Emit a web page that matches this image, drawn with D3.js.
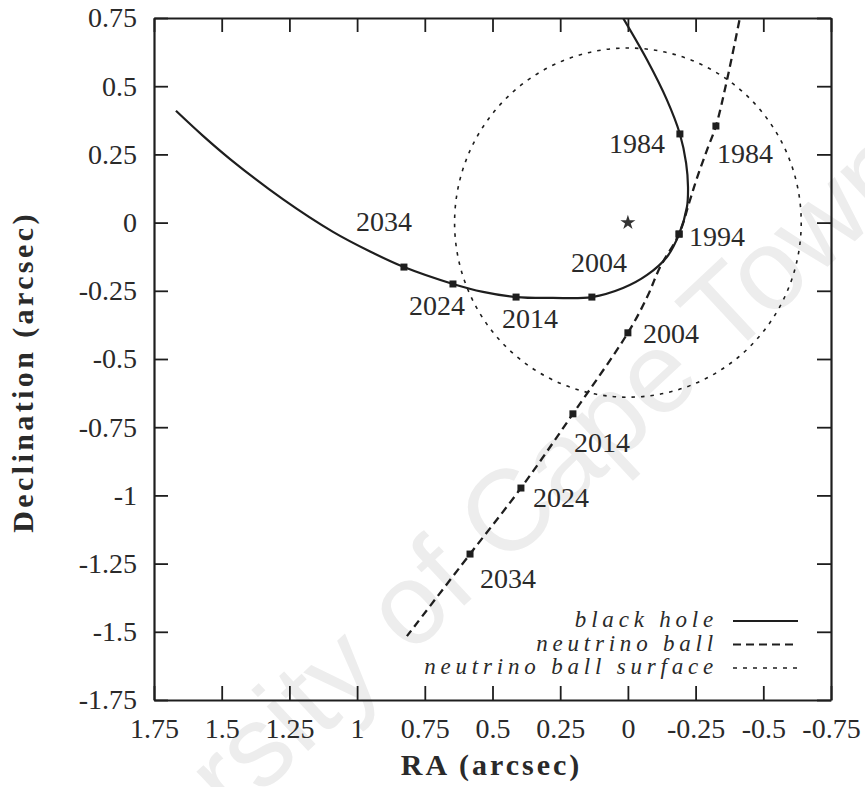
<!DOCTYPE html>
<html>
<head>
<meta charset="utf-8">
<script src="https://cdn.jsdelivr.net/npm/d3@7"></script>
<style>
  html, body { margin: 0; padding: 0; background: #ffffff; }
  svg { display: block; }
  .serif { font-family: "Liberation Serif", "DejaVu Serif", "Noto Serif", "Times New Roman", Times, serif; }
</style>
</head>
<body>
<script>
// ---- data (arcsec) ----
const raTicks  = [1.75, 1.5, 1.25, 1, 0.75, 0.5, 0.25, 0, -0.25, -0.5, -0.75];
const decTicks = [0.75, 0.5, 0.25, 0, -0.25, -0.5, -0.75, -1, -1.25, -1.5, -1.75];

// black hole orbit track
const blackHoleRA  = [0.040, -0.071, -0.144, -0.192, -0.215, -0.222, -0.218, -0.189, -0.144, -0.071, 0.018, 0.133, 0.277, 0.413, 0.535, 0.646, 0.827, 0.952, 1.089, 1.273, 1.469, 1.569, 1.669];
const blackHoleDec = [0.787, 0.596, 0.450, 0.325, 0.218, 0.130, 0.057, -0.042, -0.126, -0.192, -0.240, -0.273, -0.276, -0.273, -0.254, -0.225, -0.163, -0.106, -0.034, 0.085, 0.233, 0.318, 0.410];

// neutrino ball track
const neutrinoRA  = [-0.421, -0.366, -0.325, -0.292, -0.255, -0.226, -0.189, -0.119, -0.071, 0.000, 0.203, 0.395, 0.583, 0.816];
const neutrinoDec = [0.787, 0.523, 0.354, 0.266, 0.163, 0.072, -0.042, -0.163, -0.273, -0.404, -0.701, -0.973, -1.215, -1.516];

// epochs marked along both tracks
const epochYears  = [1984, 1994, 2004, 2014, 2024, 2034];
const bhEpochRA   = [-0.192, -0.189, 0.133, 0.413, 0.646, 0.827];
const bhEpochDec  = [0.325, -0.042, -0.273, -0.273, -0.225, -0.163];
const nbEpochRA   = [-0.325, -0.189, 0.000, 0.203, 0.395, 0.583];
const nbEpochDec  = [0.354, -0.042, -0.404, -0.701, -0.973, -1.215];

// neutrino ball surface radius, centred on the origin (Sgr A*)
const surfaceRadius = 0.64;
const centreRA = 0, centreDec = 0;

const legendLabels = ["black hole", "neutrino ball", "neutrino ball surface"];

// ---- layout ----
const W = 865, H = 787;
const ink = "#1e1e1e", textInk = "#2a2a2a";

// label placement relative to each epoch marker: [dx, dy, anchor] (null = no label)
const bhLabelPos = [[-15, 19, "end"], [10, 12, "start"], [35, -25, "end"], [-14, 31, "start"], [12, 31, "end"], [8, -36, "end"]];
const nbLabelPos = [[1, 37, "start"], null, [15, 10, "start"], [1, 38, "start"], [12, 19, "start"], [10, 34, "start"]];

const svg = d3.select("body").append("svg").attr("width", W).attr("height", H);
svg.append("rect").attr("width", W).attr("height", H).attr("fill", "#ffffff");

// faint diagonal watermark
svg.append("text")
  .attr("transform", "translate(470,600) rotate(-43)")
  .attr("text-anchor", "middle")
  .style("font-family", "'Liberation Sans', Arial, sans-serif")
  .attr("font-size", 115)
  .attr("fill", "#ededed")
  .text("University of Cape Town");

const x = d3.scaleLinear().domain([1.75, -0.75]).range([154, 831]);
const y = d3.scaleLinear().domain([0.75, -1.75]).range([18, 700]);

svg.append("clipPath").attr("id", "plotClip")
  .append("rect").attr("x", x(1.75)).attr("y", y(0.75))
  .attr("width", x(-0.75) - x(1.75)).attr("height", y(-1.75) - y(0.75));

const fmt = d => String(d);

function styleAxis(g) {
  g.attr("font-family", null).attr("font-size", null);
  g.select(".domain").attr("stroke", ink).attr("stroke-width", 2.2);
  g.selectAll(".tick line").attr("stroke", ink).attr("stroke-width", 1.8);
  g.selectAll(".tick text").attr("class", "serif").attr("fill", textInk).attr("font-size", 28);
}

svg.append("g").attr("transform", `translate(0,${y(-1.75)})`)
  .call(d3.axisBottom(x).tickValues(raTicks).tickFormat(fmt).tickSize(-14).tickSizeOuter(0).tickPadding(18))
  .call(styleAxis);
svg.append("g").attr("transform", `translate(0,${y(0.75)})`)
  .call(d3.axisTop(x).tickValues(raTicks).tickFormat("").tickSize(-14).tickSizeOuter(0))
  .call(styleAxis);
svg.append("g").attr("transform", `translate(${x(1.75)},0)`)
  .call(d3.axisLeft(y).tickValues(decTicks).tickFormat(fmt).tickSize(-14).tickSizeOuter(0).tickPadding(17))
  .call(styleAxis);
svg.append("g").attr("transform", `translate(${x(-0.75)},0)`)
  .call(d3.axisRight(y).tickValues(decTicks).tickFormat("").tickSize(-14).tickSizeOuter(0))
  .call(styleAxis);

svg.selectAll(".tick text").filter(function () { return this.textContent === ""; }).remove();

// axis titles
svg.append("text").attr("class", "serif")
  .attr("x", (x(1.75) + x(-0.75)) / 2 - 1).attr("y", 775)
  .attr("text-anchor", "middle").attr("font-weight", "bold")
  .attr("font-size", 30).attr("letter-spacing", 3).attr("fill", textInk)
  .text("RA (arcsec)");
svg.append("text").attr("class", "serif")
  .attr("transform", `translate(33,${(y(0.75) + y(-1.75)) / 2 + 13}) rotate(-90)`)
  .attr("text-anchor", "middle").attr("font-weight", "bold")
  .attr("font-size", 30).attr("letter-spacing", 3.4).attr("fill", textInk)
  .text("Declination (arcsec)");

const plot = svg.append("g").attr("clip-path", "url(#plotClip)");

// neutrino ball surface
plot.append("ellipse")
  .attr("cx", x(centreRA)).attr("cy", y(centreDec))
  .attr("rx", Math.abs(x(surfaceRadius) - x(0))).attr("ry", Math.abs(y(surfaceRadius) - y(0)))
  .attr("fill", "none").attr("stroke", ink).attr("stroke-width", 1.6)
  .attr("stroke-dasharray", "3.5,6");

const line = d3.line().x(d => x(d[0])).y(d => y(d[1])).curve(d3.curveCatmullRom.alpha(0.5));

const bhTrack = blackHoleRA.map((r, i) => [r, blackHoleDec[i]]);
const nbTrack = neutrinoRA.map((r, i) => [r, neutrinoDec[i]]);

plot.append("path").attr("d", line(nbTrack))
  .attr("fill", "none").attr("stroke", ink).attr("stroke-width", 2.3)
  .attr("stroke-dasharray", "8,5");
plot.append("path").attr("d", line(bhTrack))
  .attr("fill", "none").attr("stroke", ink).attr("stroke-width", 2.2);

// centre star
plot.append("path")
  .attr("transform", `translate(${x(centreRA)},${y(centreDec)})`)
  .attr("d", d3.symbol().type(d3.symbolStar).size(70)())
  .attr("fill", "#333");

// epoch markers and labels
function drawEpochs(ras, decs, pos) {
  epochYears.forEach((yr, i) => {
    const px = x(ras[i]), py = y(decs[i]);
    plot.append("rect").attr("x", px - 3.5).attr("y", py - 3.5)
      .attr("width", 7).attr("height", 7).attr("fill", ink);
    const p = pos[i];
    if (p) {
      svg.append("text").attr("class", "serif").attr("x", px + p[0]).attr("y", py + p[1])
        .attr("text-anchor", p[2]).attr("font-size", 28)
        .attr("fill", textInk).text(yr);
    }
  });
}
drawEpochs(bhEpochRA, bhEpochDec, bhLabelPos);
drawEpochs(nbEpochRA, nbEpochDec, nbLabelPos);

// legend
const legendDash = [null, "8,5", "4,6"];
const legendWidth = [2.2, 2.2, 1.6];
legendLabels.forEach((lab, i) => {
  const base = 627 + i * 23.5;
  svg.append("text").attr("class", "serif").attr("x", 718).attr("y", base)
    .attr("text-anchor", "end").attr("font-style", "italic")
    .attr("font-size", 23).attr("letter-spacing", 4.8).attr("fill", textInk).text(lab);
  svg.append("line").attr("x1", 733).attr("x2", 798).attr("y1", base - 6).attr("y2", base - 6)
    .attr("stroke", ink).attr("stroke-width", legendWidth[i])
    .attr("stroke-dasharray", legendDash[i]);
});
</script>
</body>
</html>
